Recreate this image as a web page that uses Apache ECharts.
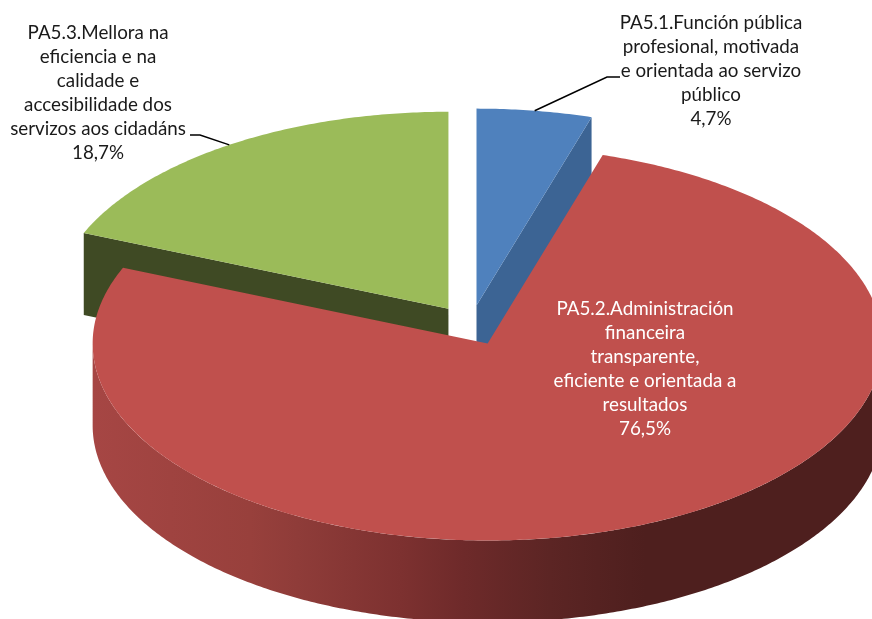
<!DOCTYPE html>
<html>
<head>
<meta charset="utf-8">
<style>html,body{margin:0;padding:0;background:#fff}#c{width:872px;height:619px}</style>
<script src="https://cdn.jsdelivr.net/npm/echarts@6/dist/echarts.min.js"></script>
</head>
<body>
<div id="c"></div>
<script>
// ---- data ----
var categories = [
  'PA5.1.Función pública\nprofesional, motivada\ne orientada ao servizo\npúblico',
  'PA5.2.Administración\nfinanceira\ntransparente,\neficiente e orientada a\nresultados',
  'PA5.3.Mellora na\neficiencia e na\ncalidade e\naccesibilidade dos\nservizos aos cidadáns'
];
var values = [4.7, 76.5, 18.7];
var topColors = ['#4f81bd', '#c0504d', '#9bbb59'];
var wallColors = ['#3c6494', '#c0504d', '#3f4a24'];
var labelColors = ['#1a1a1a', '#ffffff', '#1a1a1a'];

// ---- layout of the tilted pie ----
var CX = 470.6, CY = 325.4, RX = 395, RY = 197, DEPTH = 82, EXPLODE = 40;
var labelPos = [[711, 11], [645, 297], [98, 21]];
var leaderPts = [[[607, 77], [620, 77]], null, [[200, 135], [190, 135]]];
var paintOrder = [0, 2, 1];   // back slices first, the big front slice last

var total = values.reduce(function (a, b) { return a + b; }, 0);
function startAngle(i) {
  var s = 0;
  for (var k = 0; k < i; k++) s += values[k];
  return s / total * Math.PI * 2;
}
function rim(c, a) { return [c[0] + RX * Math.sin(a), c[1] - RY * Math.cos(a)]; }
function arc(c, a0, a1) {
  var pts = [], n = Math.max(2, Math.ceil((a1 - a0) / 0.01));
  for (var k = 0; k <= n; k++) pts.push(rim(c, a0 + (a1 - a0) * k / n));
  return pts;
}
function down(p) { return [p[0], p[1] + DEPTH]; }

var sideShade = new echarts.graphic.LinearGradient(92, 0, 882, 0, [
  { offset: 0.00, color: '#a64644' },
  { offset: 0.20, color: '#98403c' },
  { offset: 0.26, color: '#8f3c39' },
  { offset: 0.39, color: '#7d3130' },
  { offset: 0.47, color: '#6e2a2a' },
  { offset: 0.58, color: '#5c2524' },
  { offset: 0.70, color: '#4e1f1e' },
  { offset: 1.00, color: '#4e1f1e' }
], true);

function renderSlice(params, api) {
  var i = paintOrder[params.dataIndex];
  var a0 = startAngle(i);
  var a1 = a0 + api.value(0) / total * Math.PI * 2;
  var mid = (a0 + a1) / 2;
  var c = [CX + EXPLODE * Math.sin(mid), CY - EXPLODE * 0.5 * Math.cos(mid)];
  var children = [];

  // cut faces seen from the front
  if (i === 0) {
    var e = rim(c, a1);
    children.push({ type: 'polygon', shape: { points: [c, e, down(e), down(c)] }, style: { fill: wallColors[i] } });
  }
  if (i === 2) {
    var g = rim(c, a0);
    children.push({ type: 'polygon', shape: { points: [c, g, down(g), down(c)] }, style: { fill: wallColors[i] } });
  }
  // outer wall, front half only
  var w0 = Math.max(a0, Math.PI / 2), w1 = Math.min(a1, Math.PI * 1.5);
  if (w1 > w0) {
    var upper = arc(c, w0, w1);
    var lower = upper.map(down).reverse();
    children.push({ type: 'polygon', shape: { points: upper.concat(lower) }, style: { fill: sideShade } });
  }
  // top face
  children.push({
    type: 'polygon',
    shape: { points: [c].concat(arc(c, a0, a1)) },
    style: { fill: topColors[i] }
  });
  // leader line
  if (leaderPts[i]) {
    children.push({
      type: 'polyline',
      shape: { points: [rim(c, mid)].concat(leaderPts[i]) },
      style: { fill: 'none', stroke: '#000', lineWidth: 1.5 }
    });
  }
  // label
  children.push({
    type: 'text',
    style: {
      text: categories[i] + '\n' + values[i].toFixed(1).replace('.', ',') + '%',
      x: labelPos[i][0], y: labelPos[i][1],
      align: 'center', verticalAlign: 'top',
      font: '18.8px Lato, "Open Sans", sans-serif',
      lineHeight: 24,
      fill: labelColors[i]
    }
  });
  return { type: 'group', children: children };
}

var chart = echarts.init(document.getElementById('c'), null, { renderer: 'canvas' });
chart.setOption({
  animation: false,
  backgroundColor: '#ffffff',
  series: [{
    type: 'custom',
    coordinateSystem: 'none',
    clip: false,
    silent: true,
    renderItem: renderSlice,
    encode: { value: 0 },
    data: paintOrder.map(function (i) { return { name: categories[i], value: [values[i]] }; })
  }]
});
</script>
</body>
</html>
